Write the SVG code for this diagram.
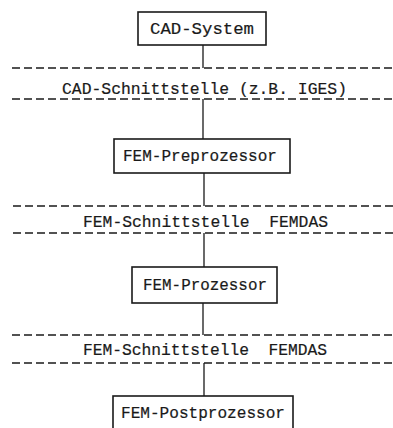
<svg xmlns="http://www.w3.org/2000/svg" width="393" height="428" viewBox="0 0 393 428">
<style>
.box{fill:none;stroke:#1a1a1a;stroke-width:1.6}
.conn{stroke:#1a1a1a;stroke-width:1.3;fill:none}
.dash{stroke:#1a1a1a;stroke-width:1.4;stroke-dasharray:8 4;fill:none}
text{font-family:"Liberation Mono","DejaVu Sans Mono",monospace;font-size:16.5px;fill:#1a1a1a;stroke:#1a1a1a;stroke-width:0.2;text-anchor:middle}
</style>
<rect width="393" height="428" fill="#ffffff"/>
<g id="interfaces">
<line class="dash" x1="12" y1="68" x2="393" y2="68"/>
<text x="204.5" y="94" textLength="285" lengthAdjust="spacingAndGlyphs">CAD-Schnittstelle (z.B. IGES)</text>
<line class="dash" x1="12" y1="99" x2="393" y2="99"/>
<line class="dash" x1="13" y1="206" x2="393" y2="206"/>
<text x="205.5" y="227" textLength="245" lengthAdjust="spacingAndGlyphs" xml:space="preserve">FEM-Schnittstelle  FEMDAS</text>
<line class="dash" x1="13" y1="233" x2="393" y2="233"/>
<line class="dash" x1="12" y1="335" x2="393" y2="335"/>
<text x="205" y="355" textLength="244" lengthAdjust="spacingAndGlyphs" xml:space="preserve">FEM-Schnittstelle  FEMDAS</text>
<line class="dash" x1="12" y1="363" x2="393" y2="363"/>
</g>
<g id="connectors">
<line class="conn" x1="203" y1="45" x2="203" y2="68"/>
<line class="conn" x1="203" y1="99" x2="203" y2="139"/>
<line class="conn" x1="204" y1="173" x2="204" y2="206"/>
<line class="conn" x1="204" y1="233" x2="204" y2="267"/>
<line class="conn" x1="203" y1="303" x2="203" y2="335"/>
<line class="conn" x1="204" y1="363" x2="204" y2="396"/>
</g>
<g id="cad-system">
<rect class="box" x="138" y="12" width="128" height="33"/>
<text x="202" y="34" textLength="104" lengthAdjust="spacingAndGlyphs">CAD-System</text>
</g>
<g id="fem-preprozessor">
<rect class="box" x="114" y="139" width="176" height="34"/>
<text x="200" y="161" textLength="154" lengthAdjust="spacingAndGlyphs">FEM-Preprozessor</text>
</g>
<g id="fem-prozessor">
<rect class="box" x="132" y="267" width="145" height="36"/>
<text x="205" y="290" textLength="124" lengthAdjust="spacingAndGlyphs">FEM-Prozessor</text>
</g>
<g id="fem-postprozessor">
<rect class="box" x="113" y="396" width="180" height="40"/>
<text x="203" y="418" textLength="164" lengthAdjust="spacingAndGlyphs">FEM-Postprozessor</text>
</g>
</svg>
